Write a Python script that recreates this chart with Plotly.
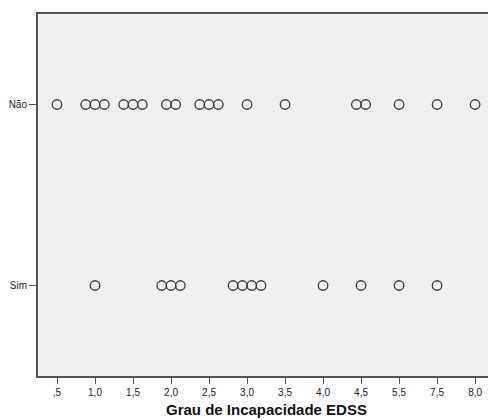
import plotly.graph_objects as go

# EDSS categories (x axis, categorical, evenly spaced)
edss_labels = [",5", "1,0", "1,5", "2,0", "2,5", "3,0", "3,5", "4,0", "4,5", "5,5", "7,5", "8,0"]
groups = ["Sim", "Não"]
# number of cases at each EDSS value for each group
counts_nao = [1, 3, 3, 2, 3, 1, 1, 0, 2, 1, 1, 1]
counts_sim = [0, 1, 0, 3, 0, 4, 0, 1, 1, 1, 1, 0]

step = 0.245  # horizontal stacking offset between duplicate cases (category units)


def expand(counts, yval):
    xs, ys = [], []
    for i, n in enumerate(counts):
        for k in range(n):
            xs.append(i + (k - (n - 1) / 2) * step)
            ys.append(yval)
    return xs, ys


fig = go.Figure()
for g, cnt in zip(groups, [counts_sim, counts_nao]):
    xs, ys = expand(cnt, groups.index(g))
    fig.add_trace(go.Scatter(
        x=xs, y=ys, mode="markers", showlegend=False,
        marker=dict(symbol="circle-open", size=9.5, color="#3a3a3a",
                    line=dict(width=1.3, color="#3a3a3a")),
    ))

fig.update_layout(
    width=488, height=420,
    margin=dict(l=38, r=0, t=14, b=44),
    paper_bgcolor="white", plot_bgcolor="#f0f0f0",
    font=dict(family="Liberation Sans, Arial, sans-serif", color="#222"),
    xaxis=dict(
        range=[-0.5, 11.34], tickmode="array",
        tickvals=list(range(len(edss_labels))), ticktext=edss_labels,
        ticks="outside", ticklen=6, tickcolor="#555", tickwidth=1,
        showgrid=False, zeroline=False,
        showline=True, linecolor="#555", linewidth=2, mirror=True,
        tickfont=dict(size=10, color="#222"),
    ),
    yaxis=dict(
        range=[-0.5, 1.5], tickmode="array",
        tickvals=[0, 1], ticktext=groups,
        ticks="outside", ticklen=7, tickcolor="#555", tickwidth=1,
        showgrid=False, zeroline=False,
        showline=True, linecolor="#555", linewidth=2, mirror=False,
        tickfont=dict(size=10, color="#222"),
    ),
    annotations=[dict(
        text="<b>Grau de Incapacidade EDSS</b>", xref="x", yref="paper",
        x=5.5, y=0, yshift=-33, yanchor="middle", showarrow=False,
        font=dict(size=15, color="#111"),
    )],
)

fig.write_html(
    "out.html",
    config={"displayModeBar": False},
    post_script="document.body.style.margin='0';document.body.style.overflow='hidden';",
)
